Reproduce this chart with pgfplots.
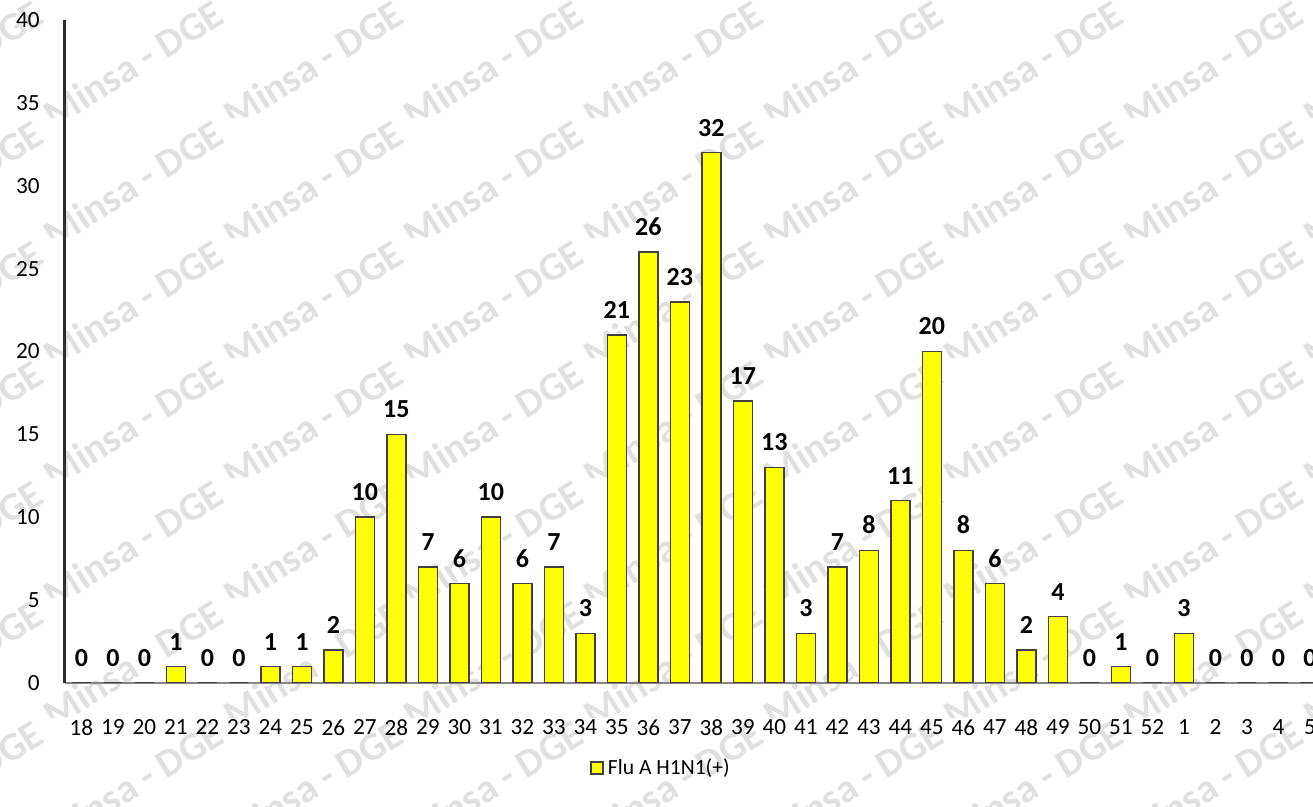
\documentclass[border=0pt]{standalone}
\usepackage{pgfplots}
\pgfplotsset{compat=1.18}
\usepackage{fontspec}
\setmainfont{Carlito}
\definecolor{baryellow}{RGB}{255,255,0}
\definecolor{baredge}{RGB}{64,64,64}
\definecolor{wm}{RGB}{224,224,224}
\definecolor{xline}{RGB}{134,134,134}
\definecolor{yline}{RGB}{45,45,45}
\pgfplotstableread{
idx val
0 0
1 0
2 0
3 1
4 0
5 0
6 1
7 1
8 2
9 10
10 15
11 7
12 6
13 10
14 6
15 7
16 3
17 21
18 26
19 23
20 32
21 17
22 13
23 3
24 7
25 8
26 11
27 20
28 8
29 6
30 2
31 4
32 0
33 1
34 0
35 3
36 0
37 0
38 0
39 0
}\datatable
\begin{document}
\begin{tikzpicture}
\path[use as bounding box, clip] (0,0) rectangle (656.5pt,403.5pt);
\foreach \r in {0,...,6}{
  \begin{scope}
    \clip (0pt,{(807-118-120*\r)*0.5pt}) rectangle (656.5pt,{(807-118-120*\r+120)*0.5pt});
    \foreach \c in {-1,...,7}{
      \node[rotate=32, text=wm, font=\fontsize{20}{20}\selectfont\bfseries, inner sep=0pt]
        at ({(133+180*\c)*0.5pt}, {(807-64-120*\r)*0.5pt}) {Minsa - DGE};
    }
  \end{scope}
}
\begin{axis}[
  at={(32.5pt,62pt)}, anchor=south west,
  scale only axis, width=631.9pt, height=331.5pt,
  xmin=-0.52, xmax=39.6, ymin=0, ymax=40,
  axis x line=bottom, axis y line=left,
  x axis line style={-, draw=xline, line width=1pt},
  y axis line style={-, draw=yline, line width=1.5pt},
  major tick length=0pt,
  xtick={0,...,39},
  xticklabels={18,19,20,21,22,23,24,25,26,27,28,29,30,31,32,33,34,35,36,37,38,39,40,41,42,43,44,45,46,47,48,49,50,51,52,1,2,3,4,5},
  ytick={0,5,...,40},
  /pgf/number format/assume math mode=true,
  tick label style={font=\fontsize{11.6}{14}\selectfont, text=black},
  xticklabel style={anchor=north, inner sep=0pt, yshift=-18pt},
  yticklabel style={anchor=east, inner sep=0pt, xshift=-12.5pt},
  ybar, bar width=9.5pt, bar shift=0pt,
  nodes near coords,
  nodes near coords style={font=\fontsize{13}{15}\selectfont\bfseries, text=black, anchor=south, inner sep=0pt, yshift=7.8pt},
  legend style={at={(0.4724,-0.128)}, anchor=center, draw=none, fill=none,
    font=\fontsize{10.8}{12}\selectfont, inner sep=0pt},
  legend image code/.code={\draw[#1, line width=0.75pt] (0pt,-3pt) rectangle (6pt,3pt);},
]
\addplot[fill=baryellow, draw=baredge, line width=0.75pt] table[x=idx, y=val] {\datatable};
\addlegendentry{Flu A H1N1(+)}
\end{axis}
\end{tikzpicture}
\end{document}
